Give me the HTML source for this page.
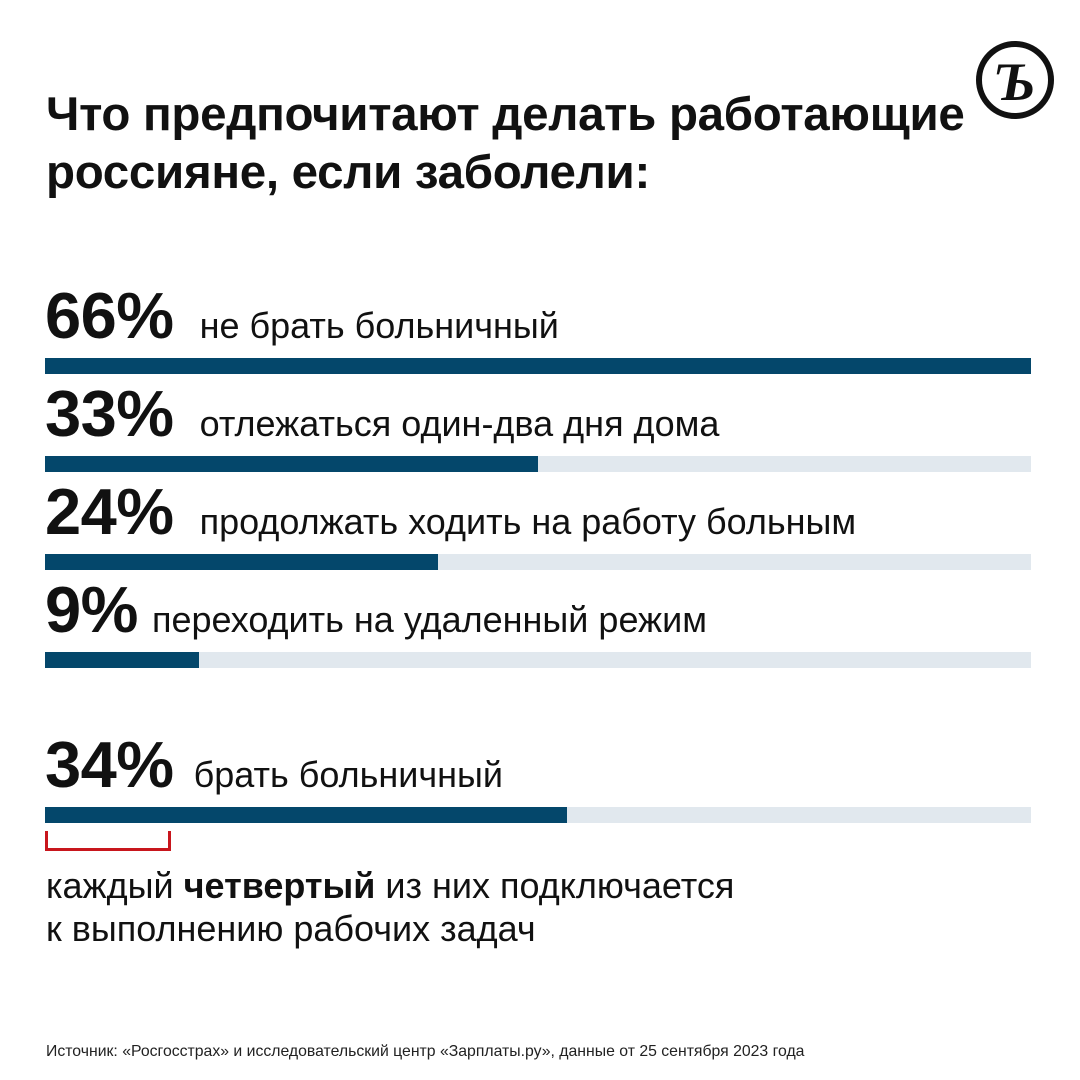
<!DOCTYPE html>
<html><head><meta charset="utf-8"><style>
body{margin:0;width:1080px;height:1080px;background:#fff;position:relative;overflow:hidden;font-family:"Liberation Sans","DejaVu Sans",sans-serif;color:#111}
.t{position:absolute;left:46px;top:86px;font-size:47.5px;font-weight:bold;line-height:58px;letter-spacing:-0.3px}
.row{position:absolute;left:45px;white-space:nowrap}
.p{font-size:65px;font-weight:bold;letter-spacing:-0.5px}
.l{font-size:36px;margin-left:26px}
.bar{position:absolute;left:45px;width:986px;height:16px;background:#e1e8ee}
.bar div{height:100%;background:#04476b}
.s{position:absolute;left:46px;top:1043px;font-size:15.8px;color:#222}
</style></head><body>
<div class="t">Что предпочитают делать работающие<br>россияне, если заболели:</div>
<svg style="position:absolute;left:972px;top:38px" width="88" height="88"><circle cx="43" cy="42" r="36" fill="none" stroke="#111" stroke-width="6"/><text x="43" y="62" text-anchor="middle" font-family="Liberation Serif" font-style="italic" font-weight="bold" font-size="54" fill="#111">Ъ</text></svg>
<div class="row" style="top:278px"><span class="p">66%</span><span class="l">не брать больничный</span></div>
<div class="bar" style="top:358px"><div style="width:986px"></div></div>
<div class="row" style="top:376px"><span class="p">33%</span><span class="l">отлежаться один-два дня дома</span></div>
<div class="bar" style="top:456px"><div style="width:493px"></div></div>
<div class="row" style="top:474px"><span class="p">24%</span><span class="l">продолжать ходить на работу больным</span></div>
<div class="bar" style="top:554px"><div style="width:393px"></div></div>
<div class="row" style="top:572px"><span class="p">9%</span><span class="l" style="margin-left:14px">переходить на удаленный режим</span></div>
<div class="bar" style="top:652px"><div style="width:154px"></div></div>
<div class="row" style="top:727px"><span class="p">34%</span><span class="l" style="margin-left:20px">брать больничный</span></div>
<div class="bar" style="top:807px"><div style="width:522px"></div></div>
<div style="position:absolute;left:45px;top:831px;width:120px;height:17px;border:3px solid #c8161d;border-top:none"></div>
<div style="position:absolute;left:46px;top:864px;font-size:36px;line-height:43px">каждый <b>четвертый</b> из них подключается<br>к выполнению рабочих задач</div>
<div class="s">Источник: «Росгосстрах» и исследовательский центр «Зарплаты.ру», данные от 25 сентября 2023 года</div>
</body></html>
